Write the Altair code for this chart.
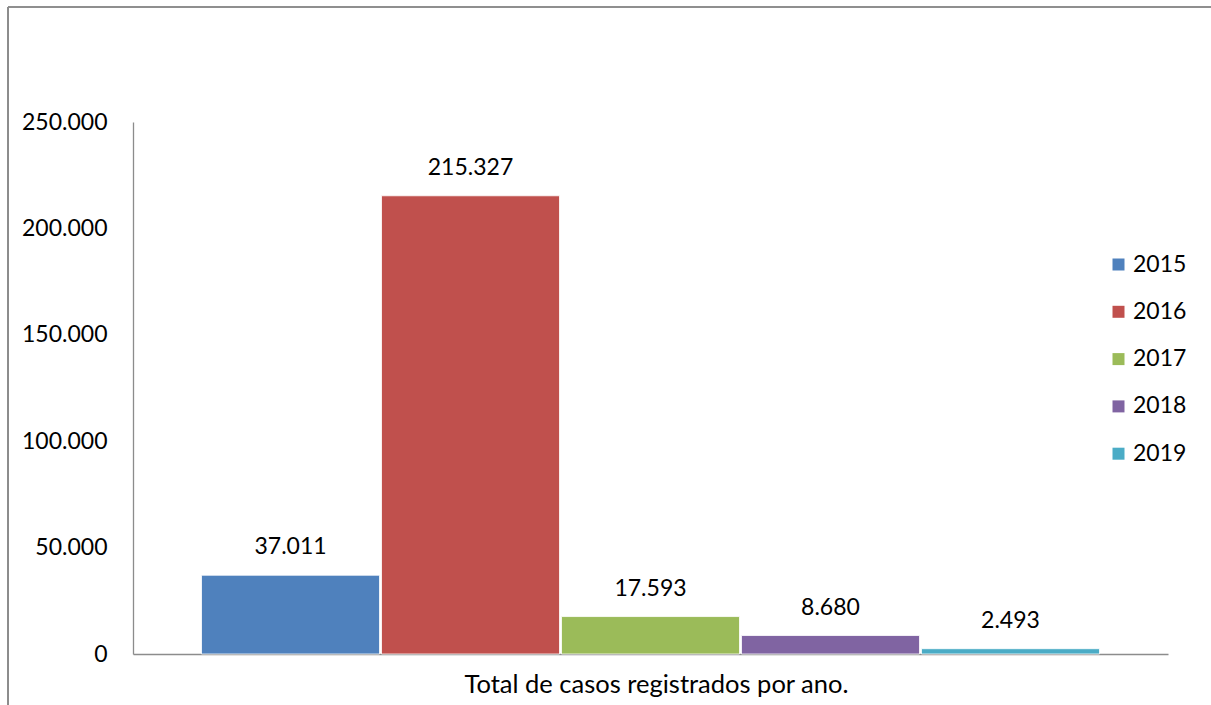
import altair as alt
import pandas as pd

# Casos registrados por ano
categoria = "Total de casos registrados por ano."
anos = ["2015", "2016", "2017", "2018", "2019"]
casos = [37011, 215327, 17593, 8680, 2493]
cores = ["#4F81BD", "#C0504D", "#9BBB59", "#8064A2", "#4BACC6"]
ticks_y = [0, 50000, 100000, 150000, 200000, 250000]

df = pd.DataFrame({"categoria": [categoria] * len(anos), "ano": anos, "casos": casos})

FONT = "Lato"
W, H = 1035, 532

x_enc = alt.X(
    "categoria:N",
    title=None,
    scale=alt.Scale(paddingInner=0, paddingOuter=0.0763),
    axis=alt.Axis(
        ticks=False, tickSize=0, domainColor="#8c8c8c", domainWidth=1.3,
        labelAngle=0, labelFont=FONT, labelFontSize=25.5, labelColor="#000000",
        labelPadding=18, labelLimit=0, labelOffset=6, grid=False,
    ),
)
xoff_enc = alt.XOffset("ano:N", scale=alt.Scale(paddingInner=0.011, paddingOuter=0))
y_enc = alt.Y(
    "casos:Q",
    title=None,
    scale=alt.Scale(domain=[0, 250000], nice=False),
    axis=alt.Axis(
        values=ticks_y, labelExpr="format(datum.value, ',')",
        ticks=False, tickSize=0, grid=False, domainColor="#8c8c8c", domainWidth=1.3,
        labelFont=FONT, labelFontSize=23, labelColor="#000000", labelPadding=26,
    ),
)

bars = alt.Chart(df).mark_bar(stroke="#ffffff", strokeWidth=0.8).encode(
    x=x_enc,
    xOffset=xoff_enc,
    y=y_enc,
    color=alt.Color(
        "ano:N",
        scale=alt.Scale(domain=anos, range=cores),
        legend=alt.Legend(
            title=None, orient="none", legendX=974, legendY=131, padding=0,
            symbolType="square", symbolSize=144, symbolStrokeWidth=0,
            labelFont=FONT, labelFontSize=23, labelColor="#000000",
            rowPadding=23.3, labelOffset=3,
        ),
    ),
)

labels = alt.Chart(df).mark_text(
    font=FONT, fontSize=23, color="#000000", baseline="middle", dy=-28
).encode(
    x=x_enc,
    xOffset=xoff_enc,
    y=y_enc,
    text=alt.Text("casos:Q", format=","),
)

# moldura do gráfico (bordas esquerda e superior)
frame_left = alt.Chart(df).mark_rule(color="#8c8c8c", strokeWidth=1.2).encode(
    x=alt.value(-125), y=alt.value(-115), y2=alt.value(600)
)
frame_top = alt.Chart(df).mark_rule(color="#8c8c8c", strokeWidth=1.2).encode(
    x=alt.value(-125), x2=alt.value(1100), y=alt.value(-115)
)

chart = (
    alt.layer(frame_left, frame_top, bars, labels)
    .properties(
        width=W, height=H,
        autosize=alt.AutoSizeParams(type="none"),
        padding={"left": 133, "top": 122, "right": 43, "bottom": 51},
        background="#ffffff",
    )
    .configure(
        locale={
            "number": {
                "decimal": ",", "thousands": ".", "grouping": [3],
                "currency": ["R$", ""],
            }
        }
    )
    .configure_view(stroke=None)
)

chart.save("out.html", embed_options={"renderer": "svg", "actions": False})
